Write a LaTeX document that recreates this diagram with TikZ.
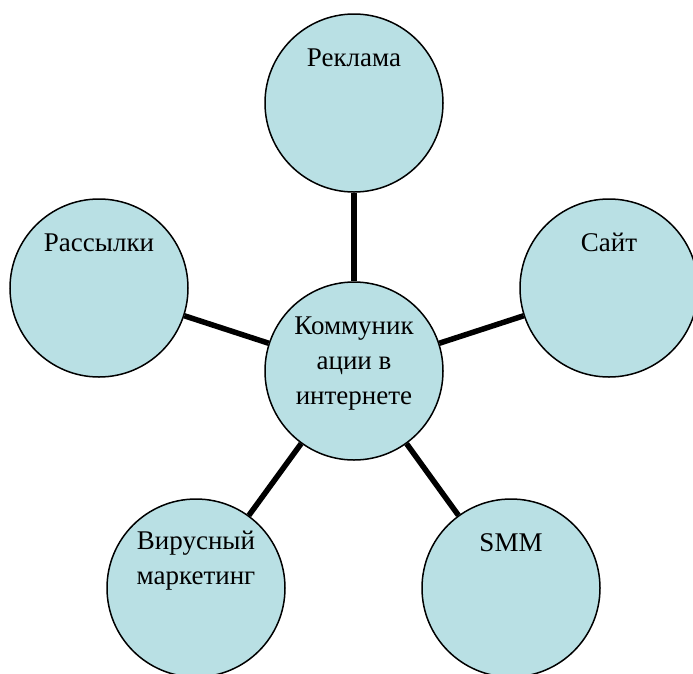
\documentclass[tikz,border=0pt]{standalone}
\usepackage{fontspec}
\setmainfont{Liberation Serif}
\usepackage{tikz}
\usetikzlibrary{positioning}

\definecolor{bubblefill}{RGB}{185,224,228}
\tikzset{
  bubble/.style={draw, circle, line width=1.5pt, fill=bubblefill, minimum size=178pt, inner sep=0pt},
  caption/.style={anchor=base, align=center, inner sep=0pt, font=\fontsize{27}{35}\selectfont},
  spoke/.style={line width=5.5pt}
}

\begin{document}
\begin{tikzpicture}[x=1pt, y=1pt]
\useasboundingbox (0, 0) rectangle (693, -673);

\node[bubble] (hub) at (354, -371) {};
\node[bubble] (ads) at (354, -103) {};
\node[bubble] (site) at (609, -288) {};
\node[bubble] (mail) at (99, -288) {};
\node[bubble] (viral) at (196, -588) {};
\node[bubble] (smm) at (511, -588) {};

\draw[spoke] (hub) -- (ads);
\draw[spoke] (hub) -- (site);
\draw[spoke] (hub) -- (mail);
\draw[spoke] (hub) -- (viral);
\draw[spoke] (hub) -- (smm);

% base of a multi-line caption is its last line
\node[caption] (hubtext) at ([yshift=-33pt]hub.center) {Коммуник\\ации в\\интернете};
\node[caption] (adstext) at ([yshift=37pt]ads.center) {Реклама};
\node[caption] (sitetext) at ([yshift=37pt]site.center) {Сайт};
\node[caption] (mailtext) at ([yshift=37pt]mail.center) {Рассылки};
\node[caption] (viraltext) at ([yshift=4pt]viral.center) {Вирусный\\маркетинг};
\node[caption] (smmtext) at ([yshift=37pt]smm.center) {SMM};

\end{tikzpicture}
\end{document}
